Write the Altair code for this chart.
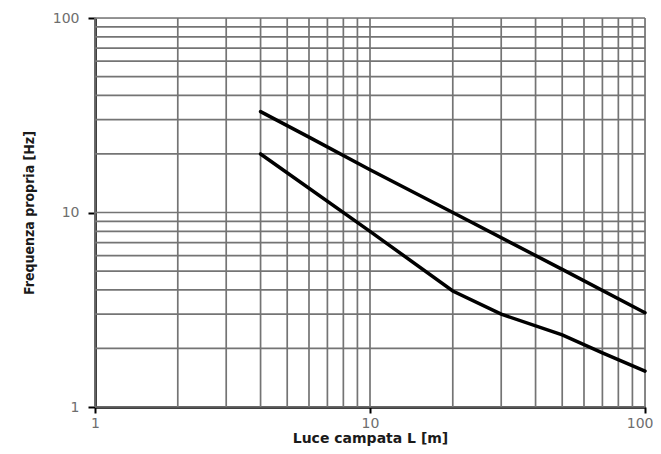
import altair as alt
import pandas as pd

# Curves
upper_L = [4, 6, 10, 20, 50, 100]
upper_f = [33, 24.4, 16.6, 10, 5.1, 3.05]
lower_L = [4, 10, 20, 30, 50, 70, 100]
lower_f = [20, 8, 3.95, 3.0, 2.35, 1.9, 1.53]

grid_vals = [1, 2, 3, 4, 5, 6, 7, 8, 9, 10, 20, 30, 40, 50, 60, 70, 80, 90, 100]
major_ticks = [1, 10, 100]

curves = pd.DataFrame(
    {"L": upper_L + lower_L,
     "f": upper_f + lower_f,
     "curve": ["upper"] * len(upper_L) + ["lower"] * len(lower_L)}
)
grid = pd.DataFrame({"v": grid_vals})

xscale = alt.Scale(type="log", domain=[1, 100], nice=False)
yscale = alt.Scale(type="log", domain=[1, 100], nice=False)

xaxis = alt.Axis(values=major_ticks, title="Luce campata L [m]", grid=False,
                 format="d", tickSize=6, tickColor="black", tickWidth=2,
                 domainColor="black", domainWidth=2.5,
                 labelFont="DejaVu Sans", labelFontSize=14, labelColor="#6e6e6e",
                 labelPadding=3, labelFlush=False,
                 labelAlign={"expr": "datum.value >= 100 ? 'right' : 'center'"},
                 labelOffset={"expr": "datum.value >= 100 ? 8 : 0"},
                 titleFont="DejaVu Sans", titleFontSize=14, titleFontWeight="bold",
                 titleColor="#1a1a1a", titlePadding=1)
yaxis = alt.Axis(values=major_ticks, title="Frequenza propria [Hz]", grid=False,
                 format="d", tickSize=7, tickColor="black", tickWidth=2,
                 domainColor="black", domainWidth=2.5,
                 labelFont="DejaVu Sans", labelFontSize=14, labelColor="#6e6e6e",
                 labelPadding=9, labelFlush=False,
                 titleFont="Liberation Sans Narrow, DejaVu Sans Condensed, sans-serif",
                 titleFontSize=14, titleFontWeight="bold",
                 titleColor="#1a1a1a", titlePadding=16)

grid_color = "#747474"

vgrid = alt.Chart(grid).mark_rule(color=grid_color, strokeWidth=1.7).encode(
    x=alt.X("v:Q", scale=xscale, axis=xaxis)
)
hgrid = alt.Chart(grid).mark_rule(color=grid_color, strokeWidth=1.7).encode(
    y=alt.Y("v:Q", scale=yscale, axis=yaxis)
)

lines = alt.Chart(curves).mark_line(color="black", strokeWidth=3.5, strokeCap="round").encode(
    x=alt.X("L:Q", scale=xscale, axis=xaxis),
    y=alt.Y("f:Q", scale=yscale, axis=yaxis),
    detail="curve:N",
    order="L:Q",
)

chart = alt.layer(vgrid, hgrid, lines).properties(
    width=550, height=389,
    autosize=alt.AutoSizeParams(type="none"),
    padding={"left": 87, "top": 10, "right": 8, "bottom": 39},
).configure_view(stroke=None).configure(background="white")

chart.save("out.html", embed_options={"renderer": "svg", "actions": False})
